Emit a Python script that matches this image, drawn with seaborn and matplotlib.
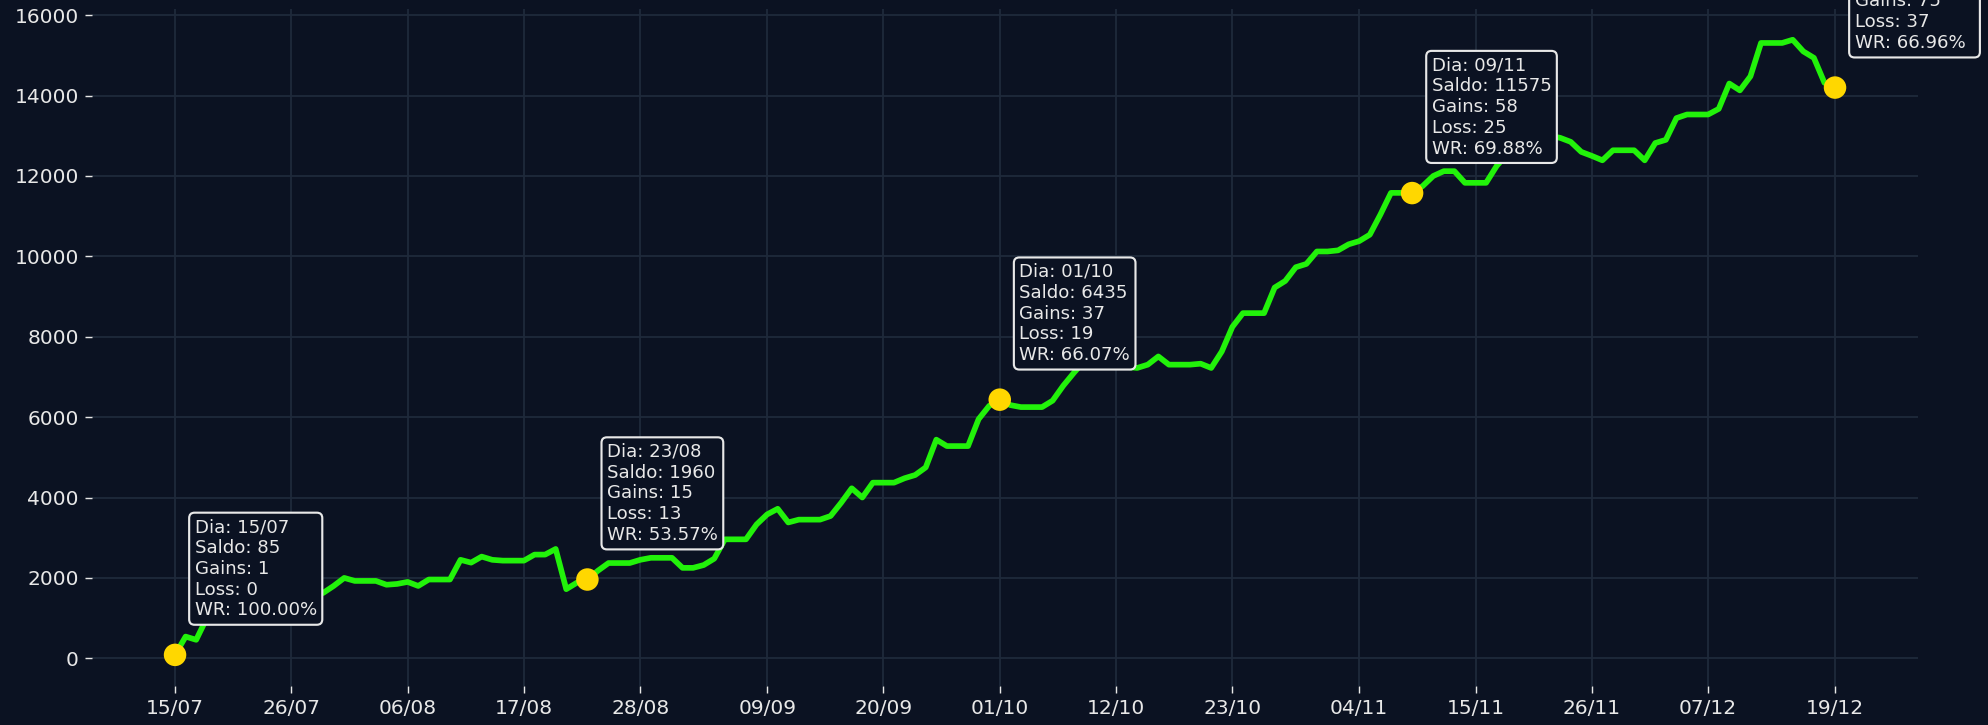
import pandas as pd
import numpy as np
import matplotlib
matplotlib.use("Agg")
import matplotlib.pyplot as plt
import matplotlib.dates as mdates
import seaborn as sns

# daily balance (saldo), one value per day starting 15/07
saldo = [85, 540, 460, 1000, 1150, 1250, 1300, 1350, 1400, 1450,
         1500, 1550, 1580, 1600, 1625, 1800, 2000, 1925, 1925, 1925,
         1830, 1850, 1900, 1800, 1960, 1960, 1960, 2450, 2380, 2530,
         2450, 2430, 2430, 2430, 2580, 2580, 2720, 1720, 1880, 1960,
         2180, 2370, 2370, 2370, 2450, 2500, 2500, 2500, 2250, 2250,
         2320, 2480, 2960, 2960, 2960, 3330, 3580, 3720, 3380, 3450,
         3450, 3450, 3540, 3870, 4230, 4000, 4370, 4370, 4370, 4480,
         4560, 4750, 5440, 5280, 5280, 5280, 5950, 6280, 6435, 6300,
         6250, 6250, 6250, 6410, 6780, 7100, 7400, 7550, 7450, 7350,
         7250, 7224, 7306, 7510, 7306, 7306, 7306, 7330, 7224, 7633,
         8245, 8588, 8588, 8588, 9224, 9388, 9730, 9812, 10122, 10122,
         10150, 10300, 10380, 10540, 11040, 11580, 11580, 11575, 11750, 12000,
         12120, 12120, 11830, 11830, 11830, 12250, 12550, 12750, 12900, 12950,
         13000, 12950, 12850, 12600, 12500, 12390, 12640, 12640, 12640, 12390,
         12820, 12900, 13440, 13530, 13530, 13530, 13670, 14300, 14130, 14480,
         15310, 15310, 15310, 15390, 15100, 14940, 14320, 14200]
start_day = "2023-07-15"

# highlighted days
dia_labels = ["15/07", "23/08", "01/10", "09/11", "19/12"]
dia_saldo = [85, 1960, 6435, 11575, 14200]
dia_gains = [1, 15, 37, 58, 75]
dia_loss = [0, 13, 19, 25, 37]

tick_labels = ["15/07", "26/07", "06/08", "17/08", "28/08", "09/09", "20/09",
               "01/10", "12/10", "23/10", "04/11", "15/11", "26/11", "07/12", "19/12"]

bg = "#0b1222"
grid_c = "#1f2a3b"
txt_c = "#e8e8e8"
line_c = "#22f20a"
dot_c = "#ffd700"

dates = pd.date_range(start_day, periods=len(saldo), freq="D")
df = pd.DataFrame({"Data": dates, "Saldo": saldo})

def to_date(s):
    d, m = s.split("/")
    return pd.Timestamp(f"2023-{m}-{d}")

dots = pd.DataFrame({"Data": [to_date(s) for s in dia_labels], "Saldo": dia_saldo})

fig, ax = plt.subplots(figsize=(1988 / 128, 725 / 128), dpi=128)
fig.patch.set_facecolor(bg)
ax.set_facecolor(bg)
fig.subplots_adjust(left=0.0463, right=0.9648, top=0.9876, bottom=0.0543)

sns.lineplot(data=df, x="Data", y="Saldo", color=line_c, linewidth=3.2, ax=ax, zorder=3)
sns.scatterplot(data=dots, x="Data", y="Saldo", color=dot_c, s=160, edgecolor="none", ax=ax, zorder=4)

for i in range(len(dia_labels)):
    wr = dia_gains[i] / (dia_gains[i] + dia_loss[i]) * 100
    label = (f"Dia: {dia_labels[i]}\nSaldo: {dia_saldo[i]}\nGains: {dia_gains[i]}\n"
             f"Loss: {dia_loss[i]}\nWR: {wr:.2f}%")
    ax.annotate(label, xy=(dots["Data"][i], dots["Saldo"][i]), xytext=(11, 20),
                textcoords="offset points", ha="left", va="bottom", fontsize=10.2,
                color=txt_c, zorder=5, annotation_clip=False,
                bbox=dict(boxstyle="round,pad=0.3", fc=bg, ec=txt_c, lw=1.2))

ax.set_xticks([to_date(s) for s in tick_labels])
ax.xaxis.set_major_formatter(mdates.DateFormatter("%d/%m"))
ax.set_yticks(range(0, 16001, 2000))

ax.grid(True, color=grid_c, linewidth=1)
ax.set_axisbelow(True)
for sp in ax.spines.values():
    sp.set_visible(False)
ax.tick_params(colors=txt_c, labelsize=11.3, length=4, width=0.8)
ax.set_xlabel("")
ax.set_ylabel("")

fig.savefig("out.png", dpi=128, facecolor=bg)
